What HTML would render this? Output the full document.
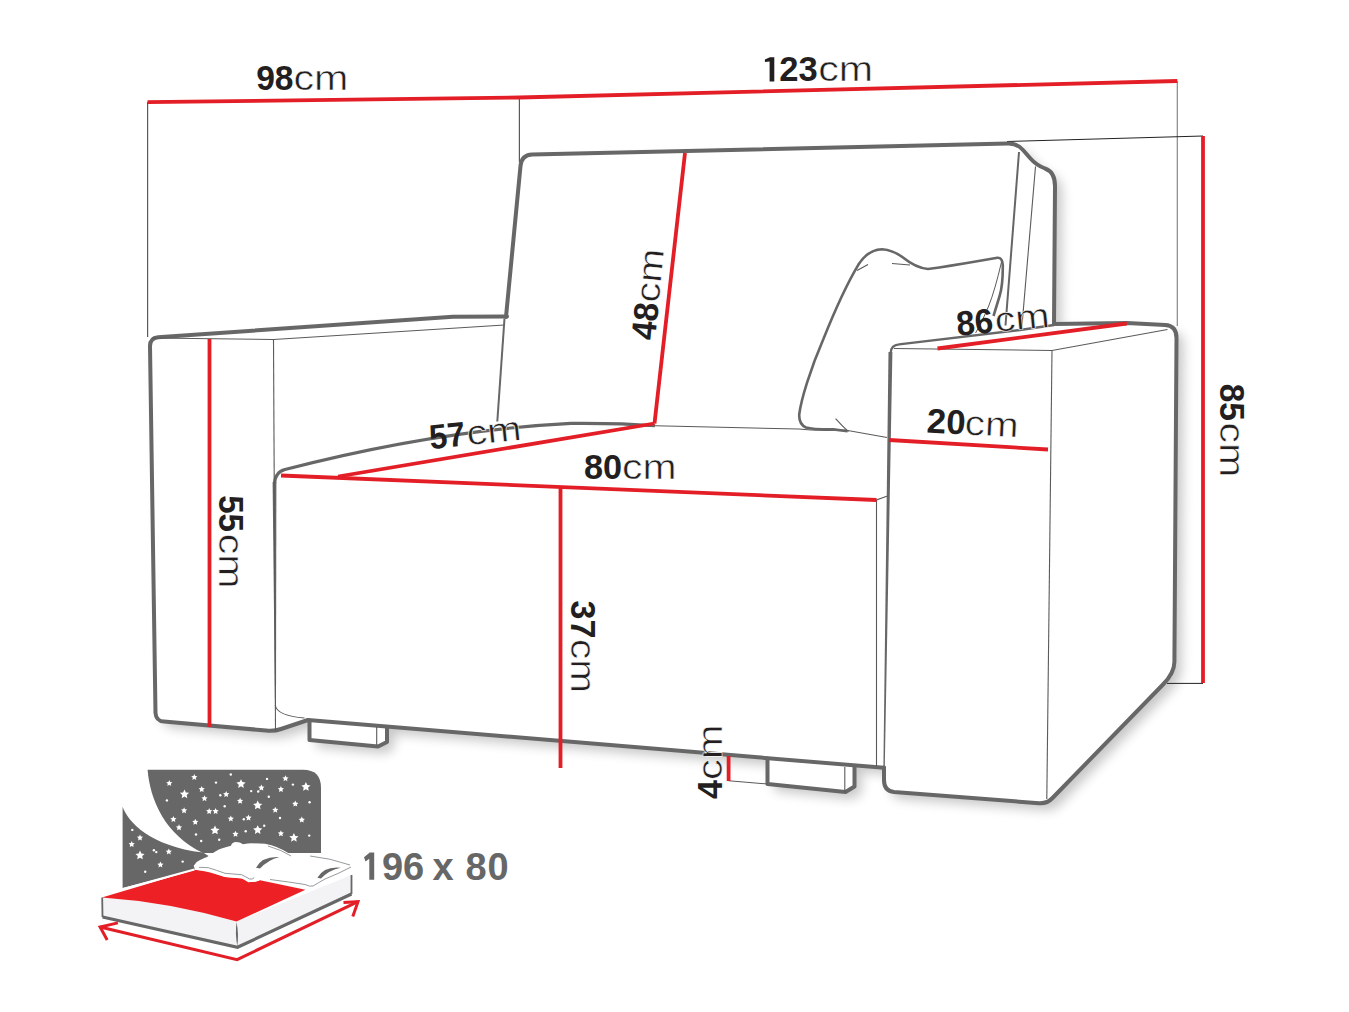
<!DOCTYPE html>
<html><head><meta charset="utf-8"><style>
html,body{margin:0;padding:0;background:#fff;}
svg{display:block;font-family:"Liberation Sans",sans-serif;}
</style></head><body>
<svg width="1349" height="1012" viewBox="0 0 1349 1012">
<defs><filter id="sh" x="-10%" y="-10%" width="130%" height="130%"><feGaussianBlur stdDeviation="6"/></filter></defs>
<path d="M150,346 Q150,338 158,337.2 L453,316.8 L506,316.5 L520.5,166 Q521.5,155 532,154.5 L1008,143.5 Q1017,143.3 1023,150 L1030,158 Q1036,165 1045,168.5 Q1055,172 1055,186 L1054,323 L1127,323 L1165,325 Q1176.5,325.5 1176.5,338 L1174.4,662 Q1174.3,673 1163,684.5 L1052.5,798 Q1047,803.8 1039,803.2 L894,792 Q884,791 884,780 L884,767.5 L854.5,765 L854.5,786.5 L845.5,792 L767.5,784 L767.5,758.5 L387,726.5 L387,742 L378,746.5 L309.5,740 L309.5,719.5 L281,729 Q274,731.5 266,730.5 L166,721 Q156,719.5 155.5,710 Z" transform="translate(7,7)" fill="#000" opacity="0.22" filter="url(#sh)"/>
<path d="M150,346 Q150,338 158,337.2 L453,316.8 L506,316.5 L520.5,166 Q521.5,155 532,154.5 L1008,143.5 Q1017,143.3 1023,150 L1030,158 Q1036,165 1045,168.5 Q1055,172 1055,186 L1054,323 L1127,323 L1165,325 Q1176.5,325.5 1176.5,338 L1174.4,662 Q1174.3,673 1163,684.5 L1052.5,798 Q1047,803.8 1039,803.2 L894,792 Q884,791 884,780 L884,767.5 L854.5,765 L854.5,786.5 L845.5,792 L767.5,784 L767.5,758.5 L387,726.5 L387,742 L378,746.5 L309.5,740 L309.5,719.5 L281,729 Q274,731.5 266,730.5 L166,721 Q156,719.5 155.5,710 Z" fill="#fff"/>
<g fill="none" stroke="#5a5a5a" stroke-width="1.2">
<path d="M147.6,102 L147.6,337"/>
<path d="M519.4,97 L519.4,162"/>
<path d="M1177.3,81 L1177.3,326" stroke="#888"/>
<path d="M1007,141.5 L1203,136" stroke="#222" stroke-width="1"/>
<path d="M1167,683.4 L1203,683.4" stroke="#222" stroke-width="1"/>
</g>
<g fill="none" stroke="#676767" stroke-width="4" stroke-linejoin="round" stroke-linecap="round">
<path d="M506,317 L520.5,166 Q521.5,155 532,154.5 L1008,143.5 Q1017,143.3 1023,150 L1030,158 Q1036,165 1045,168.5 Q1055,172 1055,186 L1054,323"/>
<path d="M507,316.5 L453,316.8 L158,337.2 Q150,338 150,346 L155.5,713 Q156,721 164,721.6 L266,730.5 Q274,731.5 281,729 L308,720"/>
<path d="M308,720 L884,767.8"/>
<path d="M309.5,720.5 L309.5,740 L378,746.5 L387,742 L387,728"/>
<path d="M767.5,758.5 L767.5,784 L845.5,792 L854.5,786.5 L854.5,767"/>
<path d="M884,767.5 L884,780 Q884,791 894,792 L1039,803.2 Q1047,803.8 1052.5,798 L1163,684.5 Q1174.3,673 1174.4,662 L1176.5,338 Q1176.5,325.5 1165,325 L1127,323 L1054,324"/>
</g>
<path d="M1054,325 L1020,330 L899,344.3 Q891,345 890.6,353" fill="none" stroke="#676767" stroke-width="2.3" stroke-linejoin="round"/>
<path d="M888.5,352 L892.4,352 L884.8,766 L883.4,766 Z" fill="#676767"/>
<path d="M272.6,482 L276.4,482 L276,705 L275,705 Z" fill="#676767"/>
<path d="M274.5,484 Q275,472 285,469.5 C380,445 480,428 571,423.4 Q620,423 655,425.8" fill="none" stroke="#676767" stroke-width="3.1"/>
<g fill="none" stroke="#5a5a5a" stroke-width="1.1">
<path d="M152,338 L273.5,339.5 L504.5,325"/>
<path d="M273.5,339.5 L275.5,731"/>
<path d="M275.2,705 Q277,716 304.5,718"/>
<path d="M655,425.8 L799,429 Q815,431 845,430 L887,437.5"/>
<path d="M887.5,496 L876.5,500 L876.5,766"/>
<path d="M894,348.5 L1052,350.5 L1167.5,329.5"/>
<path d="M1052,350.5 L1046.8,799"/>
<path d="M1019,152 L1005.5,325.5" stroke="#666" stroke-width="2"/>
<path d="M1035.5,166.5 L1022,325.5"/>
<path d="M376.7,727 L376.7,745.5"/>
<path d="M844.8,767 L844.8,792"/>
<path d="M728.6,780.7 L767.5,784"/>
</g>
<path d="M504.5,318.5 L497.3,421.5" fill="none" stroke="#676767" stroke-width="2"/>
<path d="M847.6,431.2 L833.4,429.4 Q812,429.5 806,427.5 Q798.5,424 799.3,414 C801,400 810,370 823.5,338.7 C835,310 848,282 858.3,264.8 Q868,249.5 882,249.2 Q893,250 903,257.5 Q916,268 928,269 Q950,266 975.7,261.5 L997.4,257.8 Q1002.5,257.5 1002.8,265 Q1003,285 999.6,296 L993.5,316" fill="none" stroke="#676767" stroke-width="2.6" stroke-linejoin="round"/>
<path d="M1001.5,262 Q995,290 988.7,306 Q983,320 975.6,333" fill="none" stroke="#5a5a5a" stroke-width="1"/>
<path d="M857,270.5 L868,264.5 M892,263.5 L910,265 M835.6,418.7 Q842,426 848.5,431.6" fill="none" stroke="#5a5a5a" stroke-width="1.1"/>
<g fill="none" stroke="#e31e26" stroke-width="3.8">
<path d="M147.5,102.2 L519.4,97.5 L1177.3,81"/>
<path d="M1203,136 L1203,683"/>
<path d="M685,153 L654.5,423.5"/>
<path d="M338,476.5 L654.5,423.5"/>
<path d="M281,475.5 L876.5,500"/>
<path d="M209.5,339 L209.5,727"/>
<path d="M560.5,486 L560.5,768"/>
<path d="M728.6,756 L728.6,781"/>
<path d="M937.5,348.5 L1126.8,323.5"/>
<path d="M889,440 L1048,449.5"/>
</g>
<g transform="translate(258.2 89.8)" fill="#231f20" font-size="34.5"><text x="-2.07" y="0" font-weight="bold" textLength="37.38" lengthAdjust="spacingAndGlyphs">98</text><text x="35.34" y="0" textLength="54.93" lengthAdjust="spacingAndGlyphs" stroke="#fff" stroke-width="0.55">cm</text></g>
<g transform="translate(781.3 81.3)" fill="#231f20" font-size="34.5"><text x="-2.07" y="0" font-weight="bold" textLength="38.44" lengthAdjust="spacingAndGlyphs">23</text><text x="36.84" y="0" textLength="54.93" lengthAdjust="spacingAndGlyphs" stroke="#fff" stroke-width="0.55">cm</text></g>
<path d="M764.9,59.6 L769.9,57.2 L774.3,57.2 L774.3,81.4 L769.6,81.4 L769.6,61.4 L764.9,61.9 Z" fill="#231f20"/>
<g transform="translate(586 478.9)" fill="#231f20" font-size="34.5"><text x="-2.07" y="0" font-weight="bold" textLength="38.12" lengthAdjust="spacingAndGlyphs">80</text><text x="35.96" y="0" textLength="54.49" lengthAdjust="spacingAndGlyphs" stroke="#fff" stroke-width="0.55">cm</text></g>
<g transform="translate(1220 385.8) rotate(90)" fill="#231f20" font-size="34.5"><text x="-2.07" y="0" font-weight="bold" textLength="37.17" lengthAdjust="spacingAndGlyphs">85</text><text x="36.65" y="0" textLength="54.71" lengthAdjust="spacingAndGlyphs" stroke="#fff" stroke-width="0.55">cm</text></g>
<g transform="translate(218.7 497.2) rotate(90)" fill="#231f20" font-size="34.5"><text x="-2.07" y="0" font-weight="bold" textLength="36.96" lengthAdjust="spacingAndGlyphs">55</text><text x="36.54" y="0" textLength="54.82" lengthAdjust="spacingAndGlyphs" stroke="#fff" stroke-width="0.55">cm</text></g>
<g transform="translate(570.7 602.5) rotate(90)" fill="#231f20" font-size="34.5"><text x="-2.07" y="0" font-weight="bold" textLength="37.91" lengthAdjust="spacingAndGlyphs">37</text><text x="36.47" y="0" textLength="54.06" lengthAdjust="spacingAndGlyphs" stroke="#fff" stroke-width="0.55">cm</text></g>
<g transform="translate(655.3 338.6) rotate(-84.4)" fill="#231f20" font-size="34.5"><text x="-2.07" y="0" font-weight="bold" textLength="37.17" lengthAdjust="spacingAndGlyphs">48</text><text x="35.58" y="0" textLength="53.74" lengthAdjust="spacingAndGlyphs" stroke="#fff" stroke-width="0.55">cm</text></g>
<g transform="translate(721.9 796.9) rotate(-90)" fill="#231f20" font-size="34.5"><text x="-2.07" y="0" font-weight="bold" textLength="18.98" lengthAdjust="spacingAndGlyphs">4</text><text x="16.81" y="0" textLength="55.69" lengthAdjust="spacingAndGlyphs" stroke="#fff" stroke-width="0.55">cm</text></g>
<g transform="translate(432.6 449) rotate(-6)" fill="#231f20" font-size="34.5"><text x="-2.07" y="0" font-weight="bold" textLength="35.90" lengthAdjust="spacingAndGlyphs">57</text><text x="35.34" y="0" textLength="54.82" lengthAdjust="spacingAndGlyphs" stroke="#fff" stroke-width="0.55">cm</text></g>
<g transform="translate(959.5 335.5) rotate(-5.6)" fill="#231f20" font-size="34.5"><text x="-2.07" y="0" font-weight="bold" textLength="36.86" lengthAdjust="spacingAndGlyphs">86</text><text x="36.43" y="0" textLength="55.15" lengthAdjust="spacingAndGlyphs" stroke="#fff" stroke-width="0.55">cm</text></g>
<g transform="translate(928.4 432.7) rotate(2.9)" fill="#231f20" font-size="34.5"><text x="-2.07" y="0" font-weight="bold" textLength="38.65" lengthAdjust="spacingAndGlyphs">20</text><text x="35.98" y="0" textLength="53.84" lengthAdjust="spacingAndGlyphs" stroke="#fff" stroke-width="0.55">cm</text></g>
<g>
<path d="M147.6,769.8 L303,769.8 Q321,769.8 321,788 L321,853 L203,853 C165,835 150,800 147.6,769.8 Z" fill="#676767"/>
<path d="M122.6,806.7 C128,822 150,846 203,852.6 L215,860 L194.4,869.5 L122.6,888 Z" fill="#676767"/>
<path d="M184.5,789.5 L185.9,792.4 L189.1,792.8 L186.7,795.0 L187.3,798.2 L184.5,796.6 L181.7,798.2 L182.3,795.0 L179.9,792.8 L183.1,792.4Z M241.0,779.2 L242.4,782.1 L245.6,782.5 L243.2,784.7 L243.8,787.9 L241.0,786.3 L238.2,787.9 L238.8,784.7 L236.4,782.5 L239.6,782.1Z M257.7,800.6 L259.1,803.5 L262.3,803.9 L259.9,806.1 L260.5,809.3 L257.7,807.7 L254.9,809.3 L255.5,806.1 L253.1,803.9 L256.3,803.5Z M215.0,825.6 L216.4,828.5 L219.6,828.9 L217.2,831.1 L217.8,834.3 L215.0,832.7 L212.2,834.3 L212.8,831.1 L210.4,828.9 L213.6,828.5Z M257.7,825.2 L259.1,828.1 L262.3,828.5 L259.9,830.7 L260.5,833.9 L257.7,832.3 L254.9,833.9 L255.5,830.7 L253.1,828.5 L256.3,828.1Z M305.9,782.1 L307.3,785.0 L310.5,785.4 L308.1,787.6 L308.7,790.8 L305.9,789.2 L303.1,790.8 L303.7,787.6 L301.3,785.4 L304.5,785.0Z M293.9,833.0 L295.3,835.9 L298.5,836.3 L296.1,838.5 L296.7,841.7 L293.9,840.1 L291.1,841.7 L291.7,838.5 L289.3,836.3 L292.5,835.9Z M140.0,850.6 L141.4,853.5 L144.6,853.9 L142.2,856.1 L142.8,859.3 L140.0,857.7 L137.2,859.3 L137.8,856.1 L135.4,853.9 L138.6,853.5Z M169.3,779.9 L170.2,781.9 L172.4,782.2 L170.8,783.7 L171.2,785.9 L169.3,784.8 L167.4,785.9 L167.8,783.7 L166.2,782.2 L168.4,781.9Z M194.3,773.9 L195.2,775.9 L197.4,776.2 L195.8,777.7 L196.2,779.9 L194.3,778.8 L192.4,779.9 L192.8,777.7 L191.2,776.2 L193.4,775.9Z M201.7,786.0 L202.6,788.0 L204.8,788.3 L203.2,789.8 L203.6,792.0 L201.7,790.9 L199.8,792.0 L200.2,789.8 L198.6,788.3 L200.8,788.0Z M204.5,795.2 L205.4,797.2 L207.6,797.5 L206.0,799.0 L206.4,801.2 L204.5,800.1 L202.6,801.2 L203.0,799.0 L201.4,797.5 L203.6,797.2Z M184.1,807.3 L185.0,809.3 L187.2,809.6 L185.6,811.1 L186.0,813.3 L184.1,812.2 L182.2,813.3 L182.6,811.1 L181.0,809.6 L183.2,809.3Z M173.4,816.0 L174.3,818.0 L176.5,818.3 L174.9,819.8 L175.3,822.0 L173.4,820.9 L171.5,822.0 L171.9,819.8 L170.3,818.3 L172.5,818.0Z M179.0,824.3 L179.9,826.3 L182.1,826.6 L180.5,828.1 L180.9,830.3 L179.0,829.2 L177.1,830.3 L177.5,828.1 L175.9,826.6 L178.1,826.3Z M195.3,818.8 L196.2,820.8 L198.4,821.1 L196.8,822.6 L197.2,824.8 L195.3,823.7 L193.4,824.8 L193.8,822.6 L192.2,821.1 L194.4,820.8Z M209.2,808.0 L210.1,810.0 L212.3,810.3 L210.7,811.8 L211.1,814.0 L209.2,812.9 L207.3,814.0 L207.7,811.8 L206.1,810.3 L208.3,810.0Z M215.6,808.0 L216.5,810.0 L218.7,810.3 L217.1,811.8 L217.5,814.0 L215.6,812.9 L213.7,814.0 L214.1,811.8 L212.5,810.3 L214.7,810.0Z M226.2,791.0 L227.1,793.0 L229.3,793.3 L227.7,794.8 L228.1,797.0 L226.2,795.9 L224.3,797.0 L224.7,794.8 L223.1,793.3 L225.3,793.0Z M240.1,797.8 L241.0,799.8 L243.2,800.1 L241.6,801.6 L242.0,803.8 L240.1,802.7 L238.2,803.8 L238.6,801.6 L237.0,800.1 L239.2,799.8Z M230.8,815.4 L231.7,817.4 L233.9,817.7 L232.3,819.2 L232.7,821.4 L230.8,820.3 L228.9,821.4 L229.3,819.2 L227.7,817.7 L229.9,817.4Z M248.5,814.5 L249.4,816.5 L251.6,816.8 L250.0,818.3 L250.4,820.5 L248.5,819.4 L246.6,820.5 L247.0,818.3 L245.4,816.8 L247.6,816.5Z M235.5,830.8 L236.4,832.8 L238.6,833.1 L237.0,834.6 L237.4,836.8 L235.5,835.7 L233.6,836.8 L234.0,834.6 L232.4,833.1 L234.6,832.8Z M261.4,784.5 L262.3,786.5 L264.5,786.8 L262.9,788.3 L263.3,790.5 L261.4,789.4 L259.5,790.5 L259.9,788.3 L258.3,786.8 L260.5,786.5Z M280.9,786.0 L281.8,788.0 L284.0,788.3 L282.4,789.8 L282.8,792.0 L280.9,790.9 L279.0,792.0 L279.4,789.8 L277.8,788.3 L280.0,788.0Z M285.5,775.2 L286.4,777.2 L288.6,777.5 L287.0,779.0 L287.4,781.2 L285.5,780.1 L283.6,781.2 L284.0,779.0 L282.4,777.5 L284.6,777.2Z M275.3,806.7 L276.2,808.7 L278.4,809.0 L276.8,810.5 L277.2,812.7 L275.3,811.6 L273.4,812.7 L273.8,810.5 L272.2,809.0 L274.4,808.7Z M295.3,800.6 L296.2,802.6 L298.4,802.9 L296.8,804.4 L297.2,806.6 L295.3,805.5 L293.4,806.6 L293.8,804.4 L292.2,802.9 L294.4,802.6Z M301.8,816.6 L302.7,818.6 L304.9,818.9 L303.3,820.4 L303.7,822.6 L301.8,821.5 L299.9,822.6 L300.3,820.4 L298.7,818.9 L300.9,818.6Z M280.9,830.3 L281.8,832.3 L284.0,832.6 L282.4,834.1 L282.8,836.3 L280.9,835.2 L279.0,836.3 L279.4,834.1 L277.8,832.6 L280.0,832.3Z M140.0,834.5 L140.9,836.5 L143.1,836.8 L141.5,838.3 L141.9,840.5 L140.0,839.4 L138.1,840.5 L138.5,838.3 L136.9,836.8 L139.1,836.5Z M131.7,841.0 L132.6,843.0 L134.8,843.3 L133.2,844.8 L133.6,847.0 L131.7,845.9 L129.8,847.0 L130.2,844.8 L128.6,843.3 L130.8,843.0Z M160.4,861.4 L161.3,863.4 L163.5,863.7 L161.9,865.2 L162.3,867.4 L160.4,866.3 L158.5,867.4 L158.9,865.2 L157.3,863.7 L159.5,863.4Z M168.8,848.4 L169.7,850.4 L171.9,850.7 L170.3,852.2 L170.7,854.4 L168.8,853.3 L166.9,854.4 L167.3,852.2 L165.7,850.7 L167.9,850.4Z" fill="#fff"/>
<circle cx="216" cy="782.6" r="1.2" fill="#fff"/>
<circle cx="230.8" cy="774.5" r="1.2" fill="#fff"/>
<circle cx="267" cy="778.9" r="1.2" fill="#fff"/>
<circle cx="292.9" cy="784.6" r="1.2" fill="#fff"/>
<circle cx="251.2" cy="791.1" r="1.2" fill="#fff"/>
<circle cx="258.2" cy="791.5" r="1.2" fill="#fff"/>
<circle cx="268.8" cy="796.7" r="1.2" fill="#fff"/>
<circle cx="220.3" cy="795.2" r="1.2" fill="#fff"/>
<circle cx="166.9" cy="800.4" r="1.2" fill="#fff"/>
<circle cx="224.7" cy="806.3" r="1.2" fill="#fff"/>
<circle cx="243.8" cy="819.3" r="1.2" fill="#fff"/>
<circle cx="280" cy="818" r="1.2" fill="#fff"/>
<circle cx="309.6" cy="802.3" r="1.2" fill="#fff"/>
<circle cx="264.2" cy="825.8" r="1.2" fill="#fff"/>
<circle cx="245.7" cy="831.3" r="1.2" fill="#fff"/>
<circle cx="196" cy="834.5" r="1.2" fill="#fff"/>
<circle cx="201.2" cy="841" r="1.2" fill="#fff"/>
<circle cx="219.2" cy="839.7" r="1.2" fill="#fff"/>
<circle cx="309.2" cy="835.6" r="1.2" fill="#fff"/>
<circle cx="132.3" cy="829.9" r="1.2" fill="#fff"/>
<circle cx="153.9" cy="850.3" r="1.2" fill="#fff"/>
<circle cx="156.3" cy="852.1" r="1.2" fill="#fff"/>
<circle cx="182.7" cy="861.6" r="1.2" fill="#fff"/>
<circle cx="145.2" cy="871.7" r="1.2" fill="#fff"/>
<path d="M101.9,897.4 Q170,902 236.5,921.5 L237.5,947.3 L102.5,917 Z" fill="#f3f3f5"/>
<path d="M236.5,921.5 L351.5,875 L351.5,894 L237.5,947.3 Z" fill="#f3f3f5"/>
<path d="M101.9,897.4 L195,869.7 L208.3,871.3 L225,877 L241.7,878.3 L248.3,882.3 L255,881.7 L260,880.3 L305.4,889.7 L236.5,921.5 Q170,902 101.9,897.4 Z" fill="#ec2025"/>
<path d="M123.3,889 L194.4,869.5" fill="none" stroke="#fff" stroke-width="2"/>
<path d="M102.5,917 L237.5,947.3 L351.5,894" fill="none" stroke="#676767" stroke-width="3.2"/>
<path d="M102.2,897.4 L102.5,917 M351.5,875 L351.5,894" fill="none" stroke="#676767" stroke-width="1.8"/>
<path d="M236.5,922 Q239,934 237.3,946.5 Q235,934 236.5,922 Z" fill="#676767"/>
<path d="M193.7,865.7 Q196,861.5 200,860 Q205,857.5 207,857 Q211,854 215,851.7 Q219,849 222.3,848.3 Q228,846.5 231,845.7 Q232,842 236,842 Q240,842 243,844.3 Q248,843.3 251.7,843.3 L265,843.7 Q278,846 290,854 Q305,855 326.7,857 Q342,860 353,866.5 Q345,875 330,880 Q322,883 318,886 Q314,889 310,888.4 Q306,886.5 302,885.5 L262,878.5 Q258,882 252,882 Q247,880 241.7,878.5 L225,877 Q208.3,871.3 195,869.7 Z" fill="#fff"/>
<path d="M199,867.3 L208.3,867.7 Q216,870 225,873.3 L241.7,874.7 Q246,877 249.7,879 Q252.5,879.5 254.3,877.7 M270,879.5 Q290,882 305,884.5 Q310,887 313,886 Q318,883 325,879 Q340,873 351,867 M268,846 Q282,850 291,856 M310,856 Q330,858 350,865" fill="none" stroke="#8a8f92" stroke-width="0.9"/>
<path d="M256,867.7 Q262,856 279.4,857 Q268,860 260,868.5 Z M317.4,877.7 Q324,866 340.8,867.7 Q329,870 321,878.5 Z" fill="#676767"/>
<path d="M100.1,927 L237.1,959.6 L358,901.7" fill="none" stroke="#e31e26" stroke-width="3"/>
<path d="M117.9,922.9 L100.1,927 L107.2,940 M343.5,902.4 L358,901.7 L352.8,916.4" fill="none" stroke="#e31e26" stroke-width="3" stroke-linejoin="miter"/>
<path d="M369.3,852.6 L374.2,852.6 L374.2,879.7 L369.3,879.7 Z M364,857.2 L369.8,852.6 L371,857.5 L365.5,861.5 Z" fill="#676767"/>
</g>
<text y="879.7" font-size="38" font-weight="bold" fill="#676767"><tspan x="382">9</tspan><tspan x="403">6</tspan><tspan x="432.5">x</tspan><tspan x="465.5">8</tspan><tspan x="487.5">0</tspan></text>
</svg>
</body></html>
